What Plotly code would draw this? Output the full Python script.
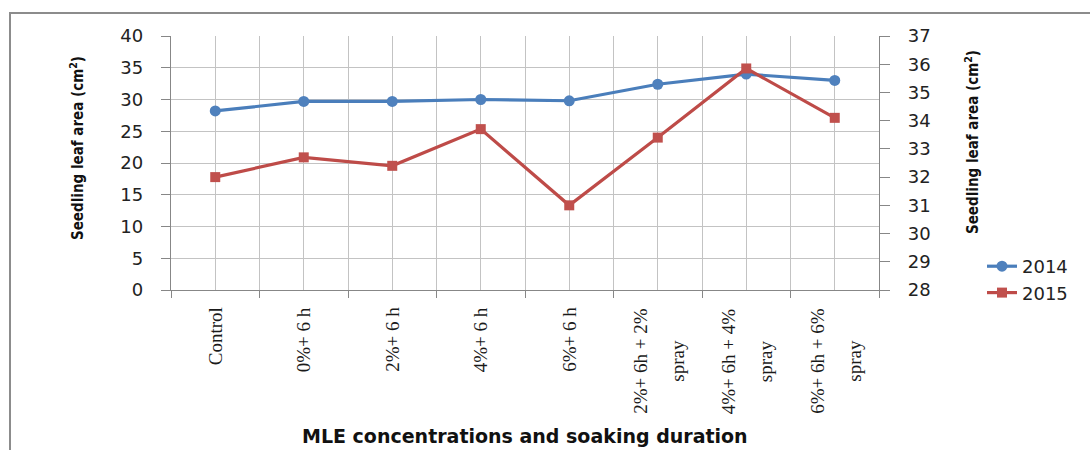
import plotly.graph_objects as go

# Treatments along the x axis (a "<br>" splits a label into two printed lines)
categories = [
    "Control",
    "0%+ 6 h",
    "2%+ 6 h",
    "4%+ 6 h",
    "6%+ 6 h",
    "2%+ 6h + 2%<br>spray",
    "4%+ 6h + 4%<br>spray",
    "6%+ 6h + 6%<br>spray",
]

# Seedling leaf area (cm2); 2014 on the left axis, 2015 on the right axis
area_2014 = [28.2, 29.7, 29.7, 30.0, 29.8, 32.4, 34.0, 33.0]
area_2015 = [32.0, 32.7, 32.4, 33.7, 31.0, 33.4, 35.85, 34.1]

left_ticks = [0, 5, 10, 15, 20, 25, 30, 35, 40]
right_ticks = [28, 29, 30, 31, 32, 33, 34, 35, 36, 37]

x_title = "MLE concentrations and soaking duration"
y_title = "Seedling leaf area (cm<sup>2</sup>)"

BLUE_LINE, BLUE_MARK = "#4A7EBB", "#4F81BD"
RED_LINE, RED_MARK = "#BE4B48", "#C0504D"
GRID = "#c3c3c3"
AXIS = "#878787"
NUM_FONT = dict(family="DejaVu Sans, Verdana, sans-serif", size=18, color="#222222")
LEG_FONT = dict(family="DejaVu Sans, Verdana, sans-serif", size=18, color="#222222")
CAT_FONT = dict(family="Liberation Serif, Times New Roman, serif", size=19, color="#1a1a1a")
TITLE_FONT = dict(family="Liberation Sans Narrow, DejaVu Sans Condensed, Arial Narrow, sans-serif",
                  size=15, color="#111111")

# plot area in pixels
L, R, T, B = 171, 211, 36, 160
W, H = 1090, 450
PW, PH = W - L - R, H - T - B

xs = list(range(len(categories)))

fig = go.Figure()
fig.add_trace(go.Scatter(
    x=xs, y=area_2014, name="2014", mode="lines+markers",
    line=dict(color=BLUE_LINE, width=3.2),
    marker=dict(symbol="circle", size=11, color=BLUE_MARK),
    yaxis="y",
))
fig.add_trace(go.Scatter(
    x=xs, y=area_2015, name="2015", mode="lines+markers",
    line=dict(color=RED_LINE, width=3.2),
    marker=dict(symbol="square", size=10, color=RED_MARK),
    yaxis="y2",
))

boundaries = [i - 0.5 for i in range(len(categories) + 1)]

fig.update_layout(
    width=W, height=H,
    margin=dict(l=L, r=R, t=T, b=B, autoexpand=False),
    paper_bgcolor="white", plot_bgcolor="white",
    showlegend=True,
    legend=dict(
        x=(982 - L) / PW, xanchor="left",
        y=(290 - 248) / PH, yanchor="top",
        font=LEG_FONT, bgcolor="rgba(0,0,0,0)",
        tracegroupgap=0, itemwidth=30,
    ),
    xaxis=dict(
        range=[-0.5, len(categories) - 0.5],
        tickmode="array", tickvals=boundaries, showticklabels=False,
        ticks="outside", ticklen=7, tickcolor=AXIS, tickwidth=1,
        showgrid=True, gridcolor=GRID, gridwidth=1,
        minor=dict(tickmode="array", tickvals=xs, showgrid=True,
                   gridcolor=GRID, gridwidth=1, ticks=""),
        showline=True, linecolor=AXIS, linewidth=1.3,
        zeroline=False, fixedrange=True,
    ),
    yaxis=dict(
        range=[left_ticks[0], left_ticks[-1]],
        tickmode="array", tickvals=left_ticks,
        ticks="outside", ticklen=9, tickcolor=AXIS, tickwidth=1,
        ticklabelstandoff=14,
        tickfont=NUM_FONT,
        showgrid=True, gridcolor=GRID, gridwidth=1,
        showline=True, linecolor=AXIS, linewidth=1.3,
        zeroline=False, fixedrange=True,
    ),
    yaxis2=dict(
        range=[right_ticks[0], right_ticks[-1]],
        tickmode="array", tickvals=right_ticks,
        overlaying="y", side="right",
        ticks="outside", ticklen=10, tickcolor=AXIS, tickwidth=1,
        ticklabelstandoff=14,
        tickfont=NUM_FONT,
        showgrid=False,
        showline=True, linecolor=AXIS, linewidth=1.3,
        zeroline=False, fixedrange=True,
    ),
)

# category labels, rotated and hanging below the axis
for i, label in enumerate(categories):
    lines = label.split("<br>")
    if len(lines) == 1:
        fig.add_annotation(
            x=i, xref="x", y=0, yref="paper",
            text=lines[0], textangle=-90, showarrow=False,
            xanchor="center", yanchor="top", yshift=-15,
            font=CAT_FONT,
        )
    else:
        for txt, dx in zip(lines, (-18, 19)):
            fig.add_annotation(
                x=i, xref="x", y=0, yref="paper",
                text=txt, textangle=-90, showarrow=False,
                xanchor="center", yanchor="middle", yshift=-71, xshift=dx,
                font=CAT_FONT,
            )

# axis titles
fig.add_annotation(
    x=0.5, xref="paper", y=(290 - 436) / PH, yref="paper",
    text=f"<b>{x_title}</b>", showarrow=False, borderpad=0,
    xanchor="center", yanchor="middle",
    font=dict(family="DejaVu Sans, Verdana, sans-serif", size=19, color="#111111"),
)
fig.add_annotation(
    x=(77 - L) / PW, xref="paper", y=(290 - 148) / PH, yref="paper",
    text=f"<b>{y_title}</b>", textangle=-90, showarrow=False,
    xanchor="center", yanchor="middle", font=TITLE_FONT,
)
fig.add_annotation(
    x=(972 - L) / PW, xref="paper", y=(290 - 142) / PH, yref="paper",
    text=f"<b>{y_title}</b>", textangle=-90, showarrow=False,
    xanchor="center", yanchor="middle", font=TITLE_FONT,
)

# chart frame
fig.add_shape(
    type="rect", xref="paper", yref="paper",
    x0=(10 - L) / PW, x1=(1110 - L) / PW,
    y0=(290 - 470) / PH, y1=(290 - 13) / PH,
    line=dict(color="#8c8c8c", width=2), fillcolor="rgba(0,0,0,0)",
    layer="below",
)

fig.write_html("out.html", config={"displayModeBar": False})
